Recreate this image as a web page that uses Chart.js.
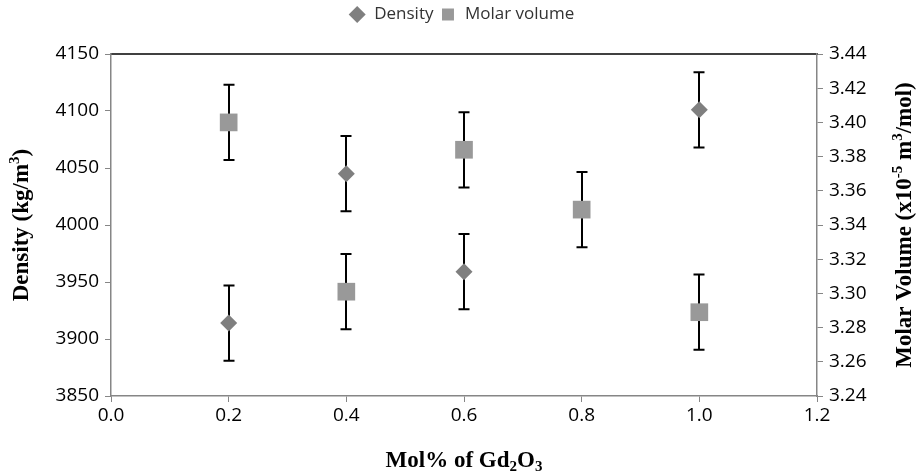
<!DOCTYPE html>
<html>
<head>
<meta charset="utf-8">
<script src="https://cdn.jsdelivr.net/npm/chart.js@4"></script>
<style>
  html, body { margin:0; padding:0; background:#fff; }
  #wrap { position:relative; width:923px; height:473px; }
</style>
</head>
<body>
<div id="wrap"><canvas id="chart"></canvas></div>
<script>
/* ── data ── */
const DENSITY_X     = [0.2, 0.4, 0.6, 1.0];
const DENSITY       = [3914, 4045, 3959, 4101];
const DENSITY_ERR   = [33, 33, 33, 33];

const MOLAR_X       = [0.2, 0.4, 0.6, 0.8, 1.0];
const MOLAR_VOLUME  = [3.400, 3.301, 3.384, 3.349, 3.289];
const MOLAR_ERR     = [0.022, 0.022, 0.022, 0.022, 0.022];

const X_TICKS       = [0.0, 0.2, 0.4, 0.6, 0.8, 1.0, 1.2];
const DENSITY_TICKS = [3850, 3900, 3950, 4000, 4050, 4100, 4150];
const MOLAR_TICKS   = [3.24, 3.26, 3.28, 3.30, 3.32, 3.34, 3.36, 3.38, 3.40, 3.42, 3.44];

const TICK_FONT   = { family:'"Open Sans", sans-serif', size:19 };
const LEGEND_FONT = { family:'"Open Sans", sans-serif', size:17 };
const TITLE_FONT  = 'bold 23px "Liberation Serif", "Times New Roman", serif';
const SMALL_FONT  = 'bold 15px "Liberation Serif", "Times New Roman", serif';
const AXIS_GRAY   = '#868686';
const PLOT_TOP    = 54;   // where the 4150 line sits in the reference

const toPts = (xs, ys) => xs.map((x, i) => ({ x, y: ys[i] }));

/* error bars, drawn under the markers */
const errorBars = {
  id: 'errorBars',
  beforeDatasetsDraw(chart) {
    const ctx = chart.ctx;
    ctx.save();
    ctx.strokeStyle = '#000';
    ctx.lineWidth = 2;
    chart.data.datasets.forEach(ds => {
      const xs = chart.scales.x, ys = chart.scales[ds.yAxisID];
      ds.data.forEach((p, i) => {
        const e = ds.errors[i];
        const px = Math.round(xs.getPixelForValue(p.x));
        const top = ys.getPixelForValue(p.y + e), bot = ys.getPixelForValue(p.y - e);
        ctx.beginPath();
        ctx.moveTo(px, top); ctx.lineTo(px, bot);
        ctx.moveTo(px - 5.5, top); ctx.lineTo(px + 5.5, top);
        ctx.moveTo(px - 5.5, bot); ctx.lineTo(px + 5.5, bot);
        ctx.stroke();
      });
    });
    ctx.restore();
  }
};

/* axis titles with sub/superscripts */
function richWidth(ctx, segs) {
  return segs.reduce((w, s) => { ctx.font = s.s ? SMALL_FONT : TITLE_FONT; return w + ctx.measureText(s.t).width; }, 0);
}
function drawRich(ctx, segs, cx, cy, rot) {
  ctx.save();
  ctx.translate(cx, cy);
  ctx.rotate(rot);
  ctx.fillStyle = '#000';
  ctx.textBaseline = 'middle';
  ctx.textAlign = 'left';
  let x = -richWidth(ctx, segs) / 2;
  segs.forEach(s => {
    ctx.font = s.s ? SMALL_FONT : TITLE_FONT;
    const dy = s.s === 'sup' ? -7 : s.s === 'sub' ? 6 : 0;
    ctx.fillText(s.t, x, dy);
    x += ctx.measureText(s.t).width;
  });
  ctx.restore();
}
const axisTitles = {
  id: 'axisTitles',
  afterDraw(chart) {
    const ctx = chart.ctx, a = chart.chartArea;
    const midY = (a.top + a.bottom) / 2;
    drawRich(ctx, [{t:'Density (kg/m'}, {t:'3', s:'sup'}, {t:')'}], 22, midY, -Math.PI / 2);
    drawRich(ctx, [{t:'Molar Volume (x10'}, {t:'-5', s:'sup'}, {t:' m'}, {t:'3', s:'sup'}, {t:'/mol)'}],
             chart.width - 18, midY, -Math.PI / 2);
    drawRich(ctx, [{t:'Mol% of Gd'}, {t:'2', s:'sub'}, {t:'O'}, {t:'3', s:'sub'}],
             (a.left + a.right) / 2, chart.height - 12, 0);
  }
};

new Chart(document.getElementById('chart'), {
  type: 'scatter',
  data: {
    datasets: [
      {
        label: 'Density',
        data: toPts(DENSITY_X, DENSITY),
        errors: DENSITY_ERR,
        yAxisID: 'y',
        pointStyle: 'rectRot',
        pointRadius: 8.5,
        pointHoverRadius: 8.5,
        backgroundColor: '#7F7F7F',
        borderColor: '#7F7F7F',
        borderWidth: 0,
      },
      {
        label: 'Molar volume',
        data: toPts(MOLAR_X, MOLAR_VOLUME),
        errors: MOLAR_ERR,
        yAxisID: 'y2',
        pointStyle: 'rect',
        pointRadius: 12.5,
        pointHoverRadius: 12.5,
        backgroundColor: '#999999',
        borderColor: '#999999',
        borderWidth: 0,
      }
    ]
  },
  options: {
    responsive: true,
    maintainAspectRatio: false,
    animation: false,
    layout: { padding: 0 },
    plugins: {
      tooltip: { enabled: false },
      legend: {
        position: 'top',
        labels: {
          usePointStyle: true,
          boxHeight: 12,
          padding: 6,
          color: '#333',
          font: LEGEND_FONT,
        }
      }
    },
    scales: {
      x: {
        type: 'linear',
        min: 0, max: 1.2,
        afterBuildTicks: s => { s.ticks = X_TICKS.map(v => ({ value: v })); },
        afterFit: s => { s.height = 77; },
        grid: { display: true, drawOnChartArea: false, tickLength: 6, color: AXIS_GRAY },
        border: { color: AXIS_GRAY, width: 1.5 },
        ticks: { color: '#000', font: TICK_FONT, padding: 2, callback: v => v.toFixed(1) },
      },
      x2: {
        type: 'linear',
        position: 'top',
        min: 0, max: 1.2,
        afterFit: s => {
          const lh = s.chart.legend ? s.chart.legend.height : 30;
          s.height = Math.max(0, PLOT_TOP - lh);
        },
        grid: { display: false },
        border: { color: '#404040', width: 2 },
        ticks: { display: false },
      },
      y: {
        type: 'linear',
        position: 'left',
        min: 3850, max: 4150,
        afterBuildTicks: s => { s.ticks = DENSITY_TICKS.map(v => ({ value: v })); },
        afterFit: s => { s.width = 111; },
        grid: { display: true, drawOnChartArea: false, tickLength: 6, color: AXIS_GRAY },
        border: { color: AXIS_GRAY, width: 1.5 },
        ticks: { color: '#000', font: TICK_FONT, padding: 6, callback: v => String(v) },
      },
      y2: {
        type: 'linear',
        position: 'right',
        min: 3.24, max: 3.44,
        afterBuildTicks: s => { s.ticks = MOLAR_TICKS.map(v => ({ value: v })); },
        afterFit: s => { s.width = 106; },
        grid: { display: true, drawOnChartArea: false, tickLength: 6, color: AXIS_GRAY },
        border: { color: AXIS_GRAY, width: 1.5 },
        ticks: { color: '#000', font: TICK_FONT, padding: 6, callback: v => v.toFixed(2) },
      }
    }
  },
  plugins: [errorBars, axisTitles]
});
</script>
</body>
</html>
